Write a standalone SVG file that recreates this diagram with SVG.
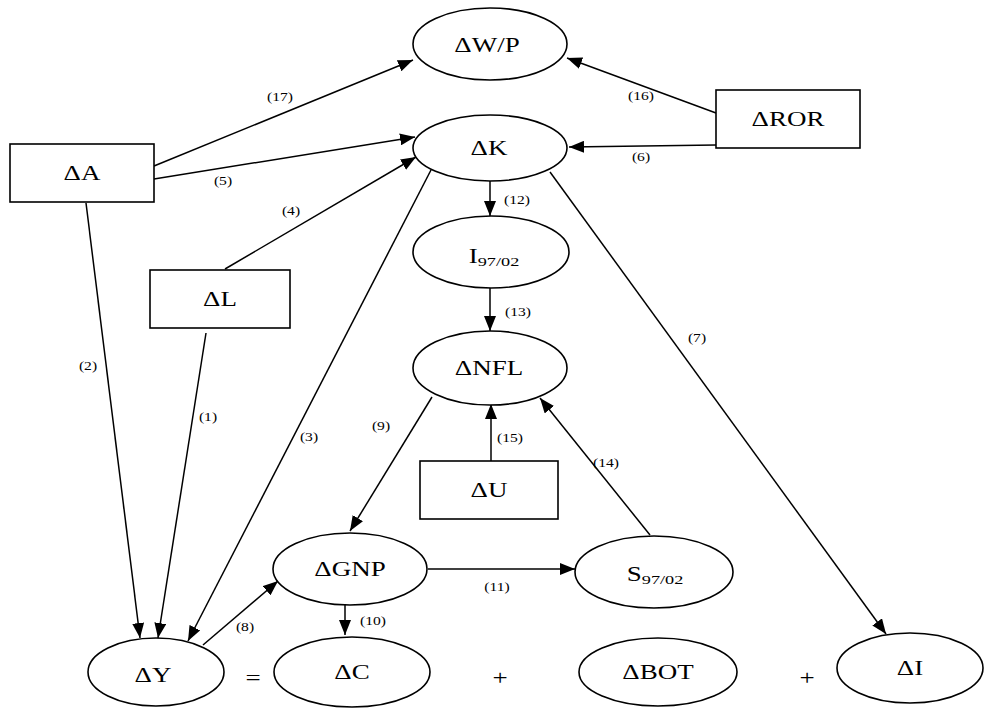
<svg xmlns="http://www.w3.org/2000/svg" width="985" height="708" viewBox="0 0 985 708">
<defs>
<marker id="arr" markerUnits="userSpaceOnUse" markerWidth="16" markerHeight="12" refX="15" refY="6" orient="auto">
<path d="M0,0 L15,6 L0,12 z" fill="#000"/>
</marker>
<style>
.n{fill:#fff;stroke:#000;stroke-width:1.6}
.t{font-family:"Liberation Serif","Times New Roman",serif;font-size:20px;text-anchor:middle;fill:#000}
.s{font-size:13.5px}
.l{font-family:"Liberation Serif","Times New Roman",serif;font-size:12px;text-anchor:middle;fill:#000}
.e{stroke:#000;stroke-width:1.5;fill:none;marker-end:url(#arr)}
</style>
</defs>
<rect width="985" height="708" fill="#fff"/>
<g id="connectors">
<line class="e" x1="154" y1="166" x2="413" y2="60"/>
<line class="e" x1="154" y1="179" x2="415" y2="137"/>
<line class="e" x1="225" y1="269" x2="416" y2="157"/>
<line class="e" x1="716" y1="145" x2="569" y2="147"/>
<line class="e" x1="716" y1="113" x2="567" y2="58"/>
<line class="e" x1="490" y1="181" x2="490" y2="216"/>
<line class="e" x1="490" y1="288" x2="490" y2="331"/>
<line class="e" x1="491" y1="461" x2="491" y2="404"/>
<line class="e" x1="650" y1="535" x2="540" y2="398"/>
<line class="e" x1="432" y1="397" x2="350" y2="531"/>
<line class="e" x1="428" y1="569" x2="575" y2="569"/>
<line class="e" x1="345" y1="604" x2="345" y2="635"/>
<line class="e" x1="203" y1="645" x2="278" y2="581"/>
<line class="e" x1="86" y1="203" x2="140" y2="638"/>
<line class="e" x1="206" y1="333" x2="158" y2="638"/>
<line class="e" x1="431" y1="170" x2="188" y2="641"/>
<line class="e" x1="550" y1="172" x2="886" y2="634"/>
<text class="l" transform="translate(280,101) scale(1.3,1)">(17)</text>
<text class="l" transform="translate(223,185) scale(1.3,1)">(5)</text>
<text class="l" transform="translate(291,215) scale(1.3,1)">(4)</text>
<text class="l" transform="translate(641,161) scale(1.3,1)">(6)</text>
<text class="l" transform="translate(641,100) scale(1.3,1)">(16)</text>
<text class="l" transform="translate(517,204) scale(1.3,1)">(12)</text>
<text class="l" transform="translate(518,316) scale(1.3,1)">(13)</text>
<text class="l" transform="translate(510,442) scale(1.3,1)">(15)</text>
<text class="l" transform="translate(606,467) scale(1.3,1)">(14)</text>
<text class="l" transform="translate(381,430) scale(1.3,1)">(9)</text>
<text class="l" transform="translate(497,591) scale(1.3,1)">(11)</text>
<text class="l" transform="translate(373,625) scale(1.3,1)">(10)</text>
<text class="l" transform="translate(245,631) scale(1.3,1)">(8)</text>
<text class="l" transform="translate(88,370) scale(1.3,1)">(2)</text>
<text class="l" transform="translate(208,421) scale(1.3,1)">(1)</text>
<text class="l" transform="translate(309,441) scale(1.3,1)">(3)</text>
<text class="l" transform="translate(697,342) scale(1.3,1)">(7)</text>
</g>
<g id="WP"><ellipse class="n" cx="490" cy="44" rx="77" ry="36"/><text class="t" transform="translate(487,52) scale(1.35,1)">ΔW/P</text></g>
<g id="K"><ellipse class="n" cx="490" cy="148" rx="77" ry="33"/><text class="t" transform="translate(489,155) scale(1.35,1)">ΔK</text></g>
<g id="A"><rect class="n" x="10" y="144" width="144" height="58"/><text class="t" transform="translate(82,180) scale(1.35,1)">ΔA</text></g>
<g id="ROR"><rect class="n" x="716" y="90" width="144" height="58"/><text class="t" transform="translate(788,126) scale(1.35,1)">ΔROR</text></g>
<g id="L"><rect class="n" x="150" y="270" width="140" height="58"/><text class="t" transform="translate(220,306) scale(1.35,1)">ΔL</text></g>
<g id="I9702"><ellipse class="n" cx="491" cy="252" rx="78" ry="36"/><text class="t" transform="translate(494,263) scale(1.35,1)">I<tspan class="s" dy="3">97/02</tspan></text></g>
<g id="NFL"><ellipse class="n" cx="490" cy="368" rx="77" ry="37"/><text class="t" transform="translate(489,375) scale(1.35,1)">ΔNFL</text></g>
<g id="U"><rect class="n" x="420" y="461" width="138" height="58"/><text class="t" transform="translate(489,497) scale(1.35,1)">ΔU</text></g>
<g id="GNP"><ellipse class="n" cx="350" cy="569" rx="77" ry="36"/><text class="t" transform="translate(350,576) scale(1.35,1)">ΔGNP</text></g>
<g id="S9702"><ellipse class="n" cx="654" cy="572" rx="79" ry="36"/><text class="t" transform="translate(655,581) scale(1.35,1)">S<tspan class="s" dy="3">97/02</tspan></text></g>
<g id="Y"><ellipse class="n" cx="156" cy="672" rx="68" ry="34"/><text class="t" transform="translate(153,682) scale(1.35,1)">ΔY</text></g>
<g id="C"><ellipse class="n" cx="352" cy="672" rx="78" ry="35"/><text class="t" transform="translate(352,679) scale(1.35,1)">ΔC</text></g>
<g id="BOT"><ellipse class="n" cx="658" cy="672" rx="79" ry="34"/><text class="t" transform="translate(658,679) scale(1.35,1)">ΔBOT</text></g>
<g id="I"><ellipse class="n" cx="910" cy="668" rx="73" ry="35"/><text class="t" transform="translate(910,675) scale(1.35,1)">ΔI</text></g>
<text class="t" transform="translate(253,685) scale(1.35,1)">=</text>
<text class="t" transform="translate(500,685) scale(1.35,1)">+</text>
<text class="t" transform="translate(807,685) scale(1.35,1)">+</text>
</svg>
